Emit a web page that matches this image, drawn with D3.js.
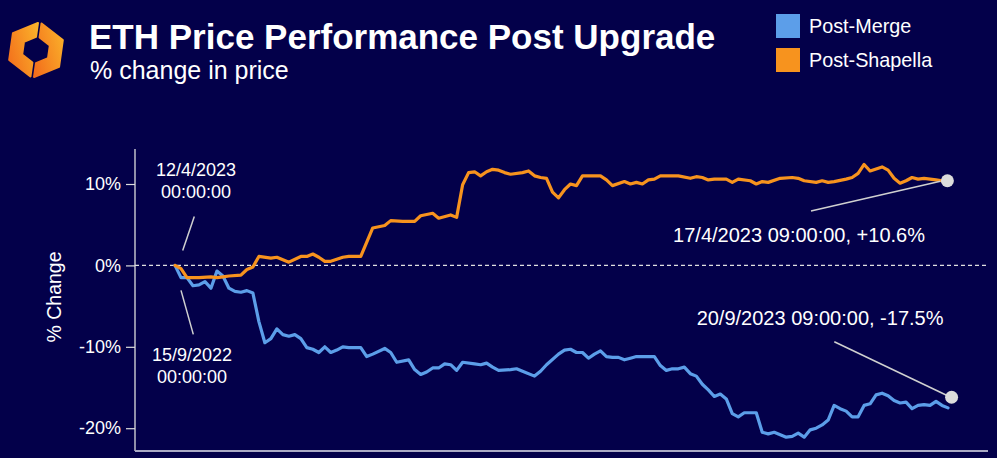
<!DOCTYPE html>
<html>
<head>
<meta charset="utf-8">
<script src="https://cdn.jsdelivr.net/npm/d3@7/dist/d3.min.js"></script>
<style>
  html, body { margin: 0; padding: 0; background: #03004a; }
  svg { display: block; }
  text { font-family: "Liberation Sans", Arial, Helvetica, sans-serif; fill: #ffffff; }
</style>
</head>
<body>
<svg id="chart" width="997" height="458"></svg>
<script>
// ---------- DATA ----------
const seriesNames = ["Post-Merge", "Post-Shapella"];
const yTicks = [10, 0, -10, -20];

// hours since upgrade, % change
const shapellaHours = [0,1,2,4,6,7,8,9,11,12,13,14,16,17,19,21,22,23,24,25,26,28,29,31,33,35,36,38,39,40,41,43,44,46,47,48,49,50,51,52,53,54,55,56,58,59,60,61,62,63,64,65,66,67,68,70,71,72,73,75,76,77,78,79,80,81,83,84,86,87,88,89,90,92,93,94,96,97,98,99,101,103,104,105,107,108,109,110,112,113,114,115,116,118,119,120,121,122,123,124,125,127,128,129];
const shapellaValues = [0.0,-0.4,-1.5,-1.5,-1.4,-1.5,-1.4,-1.3,-1.2,-0.5,-0.2,1.1,0.9,1.0,0.4,1.1,1.1,1.4,1.0,0.5,0.5,1.0,1.1,1.1,4.6,4.9,5.5,5.4,5.4,5.4,6.1,6.4,5.8,6.2,5.9,9.9,11.4,11.5,11.0,11.5,11.8,11.7,11.4,11.2,11.4,11.6,11.0,10.8,10.7,9.0,8.3,9.3,10.0,9.8,11.0,11.0,11.0,10.5,9.8,10.3,10.0,10.2,10.0,10.5,10.6,11.0,11.0,11.0,10.7,10.9,10.8,10.5,10.6,10.6,10.2,10.6,10.4,10.0,10.3,10.2,10.7,10.8,10.7,10.4,10.2,10.4,10.2,10.3,10.6,10.8,11.3,12.4,11.6,12.1,11.7,10.7,10.1,10.4,10.8,10.6,10.7,10.5,10.4,10.6];

const mergeHours = [0,1,2,3,4,5,6,7,8,9,10,11,12,13,14,15,16,17,18,19,20,21,22,23,24,25,26,27,28,29,31,32,33,35,36,37,39,40,41,42,43,44,45,46,47,48,50,51,52,53,54,56,57,58,60,61,62,64,65,66,67,68,69,70,71,72,73,74,75,76,77,78,80,81,82,83,84,85,86,87,88,89,90,91,92,93,94,95,97,98,99,100,101,102,103,104,105,106,107,108,109,110,111,112,113,114,115,116,117,118,119,120,121,122,123,124,125,126,127,128,129];
const mergeValues = [0,-1.5,-1.5,-2.5,-2.4,-2.0,-2.8,-0.7,-1.3,-2.8,-3.2,-3.3,-3.1,-3.4,-6.9,-9.5,-9.0,-7.8,-8.5,-8.7,-8.5,-9.0,-10.1,-10.3,-10.7,-10.0,-10.7,-10.4,-10.0,-10.1,-10.1,-11.2,-10.9,-10.2,-10.7,-11.9,-11.6,-12.8,-13.4,-13.1,-12.6,-12.6,-12.1,-12.2,-12.9,-11.9,-12.1,-12.2,-12.0,-12.5,-12.9,-12.8,-12.7,-13.0,-13.6,-13.0,-12.2,-10.9,-10.4,-10.3,-10.7,-10.7,-11.4,-10.9,-10.5,-11.2,-11.3,-11.3,-11.6,-11.4,-11.2,-11.2,-11.2,-12.3,-12.9,-12.7,-12.7,-12.5,-13.3,-13.6,-14.6,-15.3,-16.1,-15.8,-16.4,-18.2,-18.6,-18.1,-18.1,-20.5,-20.7,-20.5,-20.8,-21.1,-21.0,-20.6,-21.1,-20.2,-20.0,-19.6,-19.0,-17.2,-17.6,-17.9,-18.6,-18.6,-17.2,-17.0,-15.9,-15.7,-16.0,-16.6,-16.9,-16.8,-17.6,-17.2,-17.1,-17.2,-16.7,-17.2,-17.5];

// annotation texts
const startLabels = [["12/4/2023", "00:00:00"], ["15/9/2022", "00:00:00"]];
const endLabels = ["20/9/2023 09:00:00, -17.5%", "17/4/2023 09:00:00, +10.6%"];
// end markers [hour, value]
const endMarkers = [[129.6, -16.2], [128.9, 10.4]];

// ---------- LAYOUT ----------
const colors = ["#5c9ee9", "#f7931e"];
const svg = d3.select("#chart");
const W = 997, H = 458;
const axisLeft = 135, axisRight = 988, plotTop = 149, plotBottom = 451;

svg.append("rect").attr("width", W).attr("height", H).attr("fill", "#03004a");

const x = d3.scaleLinear().domain([0, 129]).range([175, 948]);
const y = d3.scaleLinear().domain([-22.8, 14.3]).range([plotBottom, plotTop]);

// ---------- LOGO ----------
const defs = svg.append("defs");
const grad = defs.append("linearGradient").attr("id", "logoGrad")
  .attr("x1", "0%").attr("y1", "100%").attr("x2", "100%").attr("y2", "0%");
grad.append("stop").attr("offset", "0%").attr("stop-color", "#f26a1b");
grad.append("stop").attr("offset", "100%").attr("stop-color", "#fbb52b");

function hexHalf(cx, cy, R, r, side, gap) {
  const s3 = Math.sqrt(3) / 2;
  const dx = side * gap;
  const o = [[0, -R], [side * R * s3, -R / 2], [side * R * s3, R / 2], [0, R]];
  const i = [[0, -r], [side * r * s3, -r / 2], [side * r * s3, r / 2], [0, r]];
  const pts = o.concat(i.reverse()).map(p => [cx + p[0] + dx, cy + p[1]]);
  return "M" + pts.map(p => p.join(",")).join("L") + "Z";
}
const logo = svg.append("g");
logo.append("path").attr("d", hexHalf(36, 50, 27, 13, -1, 1.8)).attr("fill", "url(#logoGrad)")
  .attr("stroke", "url(#logoGrad)").attr("stroke-width", 2).attr("stroke-linejoin", "round")
  .attr("transform", "rotate(8,36,50)");
logo.append("path").attr("d", hexHalf(36, 50, 27, 13, 1, 1.8)).attr("fill", "url(#logoGrad)")
  .attr("stroke", "url(#logoGrad)").attr("stroke-width", 2).attr("stroke-linejoin", "round")
  .attr("transform", "rotate(8,36,50)");

// ---------- TITLES ----------
svg.append("text").attr("x", 89).attr("y", 49)
  .attr("font-size", 35).attr("font-weight", "bold")
  .text("ETH Price Performance Post Upgrade");
svg.append("text").attr("x", 90).attr("y", 79)
  .attr("font-size", 25)
  .text("% change in price");

// ---------- LEGEND ----------
const legend = svg.append("g");
seriesNames.forEach((n, k) => {
  legend.append("rect").attr("x", 776).attr("y", 14 + k * 34).attr("width", 24).attr("height", 24)
    .attr("fill", colors[k]);
  legend.append("text").attr("x", 809).attr("y", 33 + k * 34).attr("font-size", 19.8).text(n);
});

// ---------- AXES ----------
const yAxis = d3.axisLeft(y).tickValues(yTicks).tickFormat(d => d + "%").tickSize(9).tickPadding(5);
const gy = svg.append("g").attr("transform", `translate(${axisLeft},0)`).call(yAxis);
gy.select(".domain").remove();
gy.selectAll(".tick line").attr("stroke", "#dddddd").attr("stroke-width", 1.2);
gy.selectAll(".tick text").attr("font-size", 18).attr("fill", "#ffffff")
  .style("font-family", '"Liberation Sans", Arial, sans-serif');
svg.append("line").attr("x1", axisLeft).attr("x2", axisLeft).attr("y1", plotTop).attr("y2", plotBottom)
  .attr("stroke", "#dddddd").attr("stroke-width", 1.3);
svg.append("line").attr("x1", axisLeft).attr("x2", axisRight).attr("y1", plotBottom).attr("y2", plotBottom)
  .attr("stroke", "#a9a9c4").attr("stroke-width", 2);

svg.append("text").attr("transform", `translate(61,${(plotTop + plotBottom) / 2 - 3}) rotate(-90)`)
  .attr("text-anchor", "middle").attr("font-size", 19.5).text("% Change");

// zero line
svg.append("line").attr("x1", axisLeft).attr("x2", axisRight).attr("y1", y(0)).attr("y2", y(0))
  .attr("stroke", "#e0e0e0").attr("stroke-width", 1.4).attr("stroke-dasharray", "4,3");

// ---------- LINES ----------
const line = d3.line().x(d => x(d[0])).y(d => y(d[1]));
const mergeData = mergeHours.map((h, i) => [h, mergeValues[i]]);
const shapellaData = shapellaHours.map((h, i) => [h, shapellaValues[i]]);
[mergeData, shapellaData].forEach((data, k) => {
  svg.append("path").datum(data).attr("d", line)
    .attr("fill", "none").attr("stroke", colors[k]).attr("stroke-width", 3.2)
    .attr("stroke-linejoin", "round").attr("stroke-linecap", "round");
});

// ---------- ANNOTATIONS ----------
const ann = svg.append("g");
const annStroke = "#d0d0d0";
// start: Shapella (above)
const x0 = x(0), y0 = y(0);
ann.append("line").attr("x1", x0 + 19.3).attr("y1", y0 - 49).attr("x2", x0 + 7.7).attr("y2", y0 - 15)
  .attr("stroke", annStroke).attr("stroke-width", 1.5);
ann.append("text").attr("x", x0 + 21).attr("y", y0 - 89).attr("text-anchor", "middle").attr("font-size", 18).text(startLabels[0][0]);
ann.append("text").attr("x", x0 + 21).attr("y", y0 - 67).attr("text-anchor", "middle").attr("font-size", 18).text(startLabels[0][1]);
// start: Merge (below)
ann.append("line").attr("x1", x0 + 6).attr("y1", y0 + 25).attr("x2", x0 + 18.3).attr("y2", y0 + 69)
  .attr("stroke", annStroke).attr("stroke-width", 1.5);
ann.append("text").attr("x", x0 + 17).attr("y", y0 + 95.5).attr("text-anchor", "middle").attr("font-size", 18).text(startLabels[1][0]);
ann.append("text").attr("x", x0 + 17).attr("y", y0 + 117.5).attr("text-anchor", "middle").attr("font-size", 18).text(startLabels[1][1]);

// end markers
const mM = endMarkers[0], mS = endMarkers[1];
ann.append("line").attr("x1", 834.3).attr("y1", 341.7).attr("x2", x(mM[0]) - 5).attr("y2", y(mM[1]) - 2)
  .attr("stroke", annStroke).attr("stroke-width", 1.5);
ann.append("line").attr("x1", 811).attr("y1", 211).attr("x2", x(mS[0]) - 7).attr("y2", y(mS[1]) + 0.5)
  .attr("stroke", annStroke).attr("stroke-width", 1.5);
endMarkers.forEach(m => {
  ann.append("circle").attr("cx", x(m[0])).attr("cy", y(m[1])).attr("r", 6.5).attr("fill", "#dcdcdc");
});
ann.append("text").attr("x", 943.5).attr("y", 325).attr("text-anchor", "end").attr("font-size", 20).text(endLabels[0]);
ann.append("text").attr("x", 925).attr("y", 241.5).attr("text-anchor", "end").attr("font-size", 20).text(endLabels[1]);
</script>
</body>
</html>
